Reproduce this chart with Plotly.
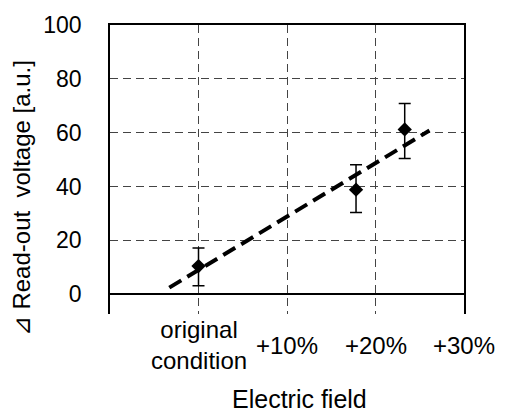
import plotly.graph_objects as go

# ---- data ----
field_pct = [0.0, 17.8, 23.3]            # electric field increase (%)
voltage = [10.4, 38.8, 61.2]              # read-out voltage [a.u.]
err_plus = [6.7, 9.3, 9.6]
err_minus = [7.3, 8.5, 10.8]
trend_x = [-3.3, 26.1]
trend_y = [2.4, 60.8]
x_tick_vals = [0, 10, 20, 30]
x_tick_text = ["original<br>condition", "+10%", "+20%", "+30%"]
y_tick_vals = [0, 20, 40, 60, 80, 100]

FONT = "Liberation Sans, Arial, sans-serif"

fig = go.Figure()
fig.add_trace(go.Scatter(
    x=trend_x, y=trend_y, mode="lines",
    line=dict(color="black", width=4, dash="14px,7px"),
    showlegend=False, hoverinfo="skip"))
fig.add_trace(go.Scatter(
    x=field_pct, y=voltage, mode="markers",
    marker=dict(symbol="diamond", size=11, color="black"),
    error_y=dict(type="data", symmetric=False, array=err_plus,
                 arrayminus=err_minus, color="black", thickness=1.5, width=6),
    showlegend=False))
# invisible trace on a top axis to draw the top border only
fig.add_trace(go.Scatter(x=[None], y=[None], xaxis="x2", showlegend=False))

annotations = []
for v, t in zip(x_tick_vals, x_tick_text):
    annotations.append(dict(x=v, y=0, xref="x", yref="paper", text=t,
                            showarrow=False, yanchor="middle", xanchor="center",
                            yshift=-31, font=dict(family=FONT, size=24, color="black")))
annotations.append(dict(x=0.535, y=0, xref="paper", yref="paper", text="Electric field",
                        showarrow=False, yanchor="middle", yshift=-85,
                        font=dict(family=FONT, size=25, color="black")))
annotations.append(dict(x=-0.249, y=0.40, xref="paper", yref="paper",
                        text="⊿ Read-out  voltage [a.u.]", textangle=-90,
                        showarrow=False, xanchor="center", yanchor="middle",
                        font=dict(family=FONT, size=24, color="black")))

fig.update_layout(
    width=508, height=414,
    margin=dict(l=110, r=44, t=20, b=100),
    plot_bgcolor="white", paper_bgcolor="white",
    font=dict(family=FONT, size=23, color="black"),
    xaxis=dict(range=[-10, 30], tickvals=[0, 10, 20], showticklabels=False,
               showgrid=True, gridcolor="#444", griddash="8px,5px", gridwidth=1,
               zeroline=False, showline=False, ticks=""),
    xaxis2=dict(range=[-10, 30], overlaying="x", side="top", showline=True,
                linecolor="black", linewidth=2, showticklabels=False,
                showgrid=False, zeroline=False, ticks=""),
    yaxis=dict(range=[-7.4, 100], tickvals=y_tick_vals,
               tickfont=dict(family=FONT, size=23, color="black"),
               showgrid=True, gridcolor="#444", griddash="8px,5px", gridwidth=1,
               zeroline=True, zerolinecolor="black", zerolinewidth=1.5,
               showline=True, mirror=True, linecolor="black", linewidth=1.5,
               ticks="", ticklabelstandoff=22),
    annotations=annotations,
)

fig.write_html("out.html")
